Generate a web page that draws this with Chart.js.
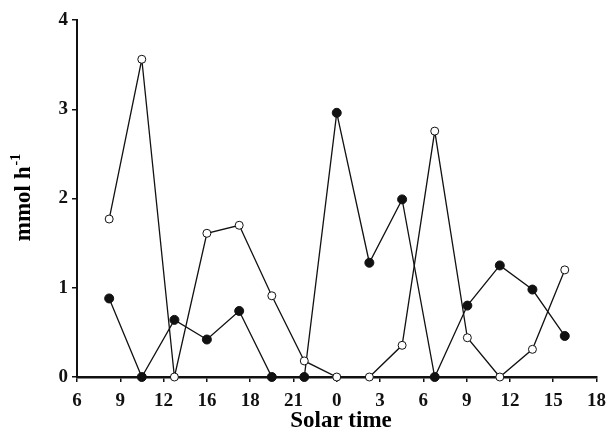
<!DOCTYPE html>
<html>
<head>
<meta charset="utf-8">
<script src="https://cdn.jsdelivr.net/npm/chart.js@4.4.1/dist/chart.umd.min.js"></script>
<style>
  html, body { margin: 0; padding: 0; background: #fff; }
  #wrap { width: 614px; height: 442px; }
</style>
</head>
<body>
<div id="wrap"><canvas id="chart" width="614" height="442"></canvas></div>
<script>
// sampling times, hours from start of day 1 (24 = midnight)
const sampleHours = [8.23, 10.49, 12.75, 15.0, 17.24, 19.5, 21.75, 24.0, 26.26, 28.53, 30.79, 33.05, 35.3, 37.56, 39.8];
const openValues = [1.77, 3.56, 0, 1.61, 1.70, 0.91, 0.18, 0, 0, 0.355, 2.755, 0.44, 0, 0.31, 1.20];
const filledValues = [0.88, 0, 0.64, 0.42, 0.74, 0, 0, 2.96, 1.28, 1.99, 0, 0.80, 1.25, 0.98, 0.46];
const xTickValues = [6, 9, 12, 15, 18, 21, 24, 27, 30, 33, 36, 39, 42];
const xTickLabels = ['6', '9', '12', '16', '18', '21', '0', '3', '6', '9', '12', '15', '18'];
const yTickValues = [0, 1, 2, 3, 4];

const FONT = "'Liberation Serif', 'Times New Roman', serif";

function toPoints(vals){
  return vals.map((v, i) => ({ x: sampleHours[i], y: v }));
}

const titlesPlugin = {
  id: 'titles',
  afterDraw(chart){
    const ctx = chart.ctx;
    ctx.save();
    ctx.fillStyle = '#000';
    // x title
    ctx.font = "bold 23px " + FONT;
    ctx.textAlign = 'center';
    ctx.textBaseline = 'middle';
    ctx.fillText('Solar time', 341, 421);
    // y title with superscript
    ctx.translate(24, 198);
    ctx.rotate(-Math.PI / 2);
    ctx.textAlign = 'left';
    ctx.textBaseline = 'middle';
    const main = 'mmol h';
    ctx.font = "bold 23px " + FONT;
    const wMain = ctx.measureText(main).width;
    ctx.font = "bold 14px " + FONT;
    const wSup = ctx.measureText('-1').width;
    const start = -(wMain + wSup) / 2;
    ctx.font = "bold 23px " + FONT;
    ctx.fillText(main, start, 0);
    ctx.font = "bold 14px " + FONT;
    ctx.fillText('-1', start + wMain + 1, -8);
    ctx.restore();
  }
};

const ctx = document.getElementById('chart').getContext('2d');
new Chart(ctx, {
  type: 'scatter',
  data: {
    datasets: [
      {
        label: 'open',
        data: toPoints(openValues),
        showLine: true,
        borderColor: '#111',
        borderWidth: 1.3,
        pointRadius: 4,
        pointBackgroundColor: '#fff',
        pointBorderColor: '#111',
        pointBorderWidth: 1,
        clip: false
      },
      {
        label: 'filled',
        data: toPoints(filledValues),
        showLine: true,
        borderColor: '#111',
        borderWidth: 1.3,
        pointRadius: 4.5,
        pointBackgroundColor: '#111',
        pointBorderColor: '#111',
        pointBorderWidth: 1,
        clip: false
      }
    ]
  },
  options: {
    responsive: false,
    animation: false,
    layout: { padding: { top: 20, right: 11, left: 0, bottom: 0 } },
    plugins: {
      legend: { display: false },
      tooltip: { enabled: false }
    },
    scales: {
      x: {
        type: 'linear',
        min: 6,
        max: 42,
        afterBuildTicks: s => { s.ticks = xTickValues.map(v => ({ value: v })); },
        afterFit: s => { s.height = 65; },
        ticks: {
          color: '#111',
          font: { family: FONT, size: 19, weight: 'bold' },
          padding: 8,
          maxRotation: 0,
          autoSkip: false,
          callback: (v) => {
            const i = xTickValues.indexOf(v);
            return i >= 0 ? xTickLabels[i] : '';
          }
        },
        grid: { drawOnChartArea: false, drawTicks: true, tickLength: 5, color: '#111', lineWidth: 1.5 },
        border: { display: true, color: '#111', width: 2.5 }
      },
      y: {
        min: 0,
        max: 4,
        afterBuildTicks: s => { s.ticks = yTickValues.map(v => ({ value: v })); },
        afterFit: s => { s.width = 77; },
        ticks: {
          color: '#111',
          font: { family: FONT, size: 19, weight: 'bold' },
          padding: 4
        },
        grid: { drawOnChartArea: false, drawTicks: true, tickLength: 5, color: '#111', lineWidth: 1.5 },
        border: { display: true, color: '#111', width: 2 }
      }
    }
  },
  plugins: [titlesPlugin]
});
</script>
</body>
</html>
